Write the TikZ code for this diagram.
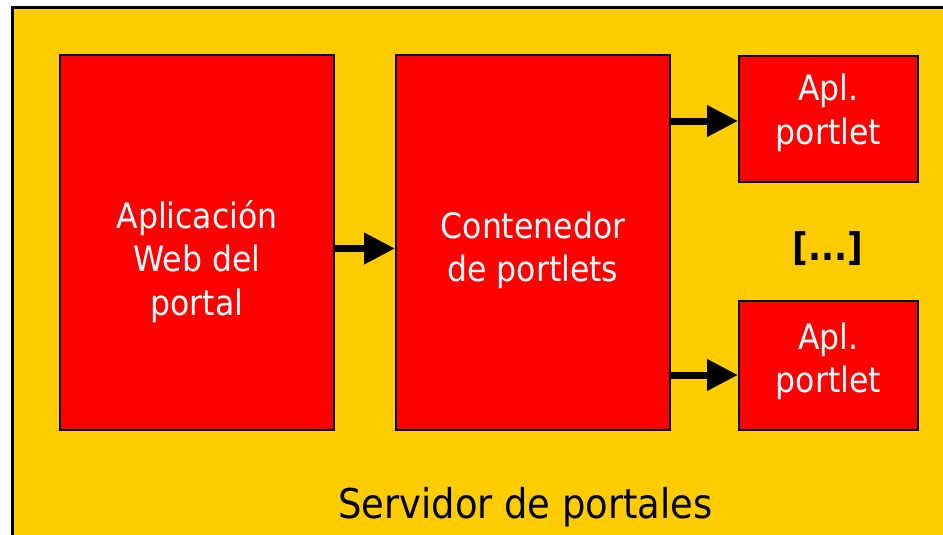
\documentclass[tikz,border=0pt]{standalone}
\usepackage{fontspec}
\setmainfont{DejaVu Sans}[FakeStretch=0.9]
\usetikzlibrary{arrows.meta}
\definecolor{portalyellow}{HTML}{FFCC00}
\definecolor{portalred}{HTML}{FF0000}
\tikzset{
  box/.style={draw=black, line width=2pt, fill=portalred, inner sep=0pt},
  boxtext/.style={text=white, align=center, font=\fontsize{35}{43.5}\selectfont},
  arr/.style={line width=7pt, -{Triangle[length=31pt,width=30pt]}}
}
\begin{document}
\begin{tikzpicture}[x=1pt, y=-1pt]
\useasboundingbox (0,0) rectangle (943,535);
\fill[white] (0,0) rectangle (943,535);
\draw[line width=3pt, fill=portalyellow] (12,8) rectangle (960,560);

% boxes
\node[box, minimum width=274pt, minimum height=375pt] (web) at (197,242.5) {};
\node[box, minimum width=274pt, minimum height=375pt] (cont) at (533,242.5) {};
\node[box, minimum width=179pt, minimum height=126pt] (apla) at (828.5,119) {};
\node[box, minimum width=179pt, minimum height=129pt] (aplb) at (828.5,365.5) {};

\node[boxtext] (webtxt) at (197,261.5) {Aplicación\\Web del\\portal};
\node[boxtext] (conttxt) at (533,250.5) {Contenedor\\de portlets};
\node[boxtext] (aplatxt) at (828.5,113) {Apl.\\portlet};
\node[boxtext] (aplbtxt) at (828.5,361.5) {Apl.\\portlet};

% arrows
\draw[arr] (web.east |- 0,248.5) -- (cont.west |- 0,248.5);
\draw[arr] (cont.east |- 0,121) -- (apla.west |- 0,121);
\draw[arr] (cont.east |- 0,375) -- (aplb.west |- 0,375);

\node[font=\fontsize{38}{44}\selectfont\bfseries] (dots) at (828,249) {[...]};
\node[font=\fontsize{41}{50}\selectfont, anchor=base] (srv) at (525.5,518) {Servidor de portales};
\end{tikzpicture}
\end{document}
